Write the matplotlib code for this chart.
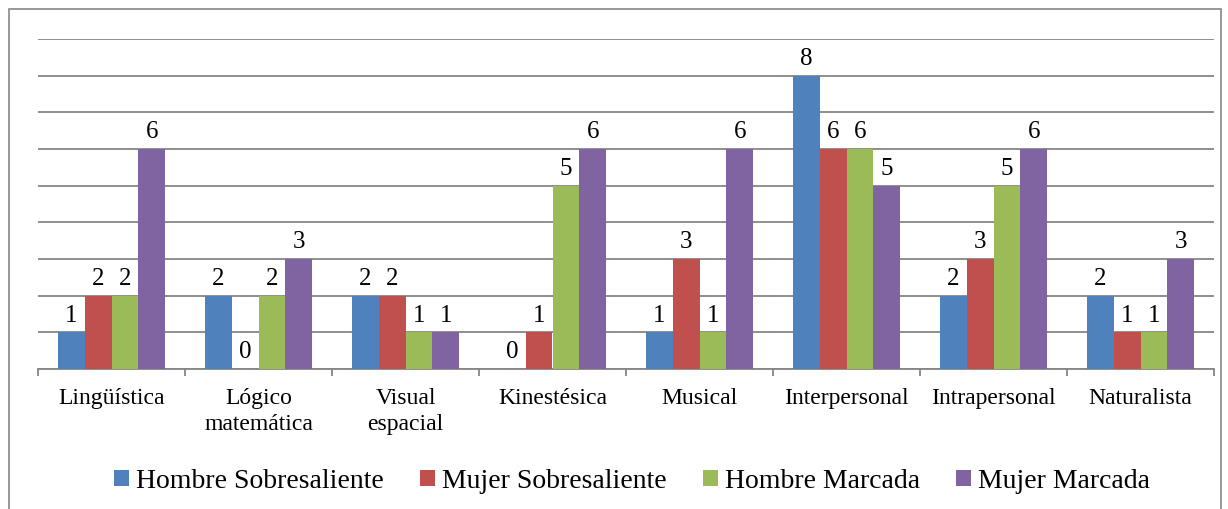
import numpy as np
import matplotlib; matplotlib.use("Agg"); import matplotlib.pyplot as plt
from matplotlib.patches import Rectangle

categorias = ["Lingüística", "Lógico\nmatemática", "Visual\nespacial", "Kinestésica",
              "Musical", "Interpersonal", "Intrapersonal", "Naturalista"]
series = ["Hombre Sobresaliente", "Mujer Sobresaliente", "Hombre Marcada", "Mujer Marcada"]
hombre_sob = [1, 2, 2, 0, 1, 8, 2, 2]
mujer_sob = [2, 0, 2, 1, 3, 6, 3, 1]
hombre_mar = [2, 2, 1, 5, 1, 6, 5, 1]
mujer_mar = [6, 3, 1, 6, 6, 5, 6, 3]
valores = [hombre_sob, mujer_sob, hombre_mar, mujer_mar]
colores = ["#4F81BD", "#C0504D", "#9BBB59", "#8064A2"]

plt.rcParams["font.family"] = ["Liberation Serif", "DejaVu Serif"]
fig = plt.figure(figsize=(12.28, 5.09), dpi=100)
fig.patches.append(Rectangle((9/1228, -0.1), (1221-9)/1228, 1.1 - 9/509, transform=fig.transFigure,
                             fill=False, edgecolor="#868686", linewidth=1.2))
ax = fig.add_axes([38/1228, 1-369/509, (1214-38)/1228, (369-39)/509])

x = np.arange(len(categorias))
w = 0.182
gris = "#868686"
for i, (vals, c, nom) in enumerate(zip(valores, colores, series)):
    pos = x + (i - 1.5) * w
    ax.bar(pos, vals, width=w, color=c, label=nom, zorder=3)
    for p, v in zip(pos, vals):
        ax.annotate(str(v), (p, v), xytext=(0, 4), textcoords="offset points",
                    ha="center", va="bottom", fontsize=18)

ax.set_xlim(-0.5, len(categorias) - 0.5)
ax.set_ylim(0, 9)
ax.set_yticks(range(0, 10))
ax.yaxis.grid(True, color=gris, linewidth=1.3, zorder=0)
ax.tick_params(axis="y", length=0, labelleft=False)
ax.set_xticks(np.arange(-0.5, len(categorias), 1))
ax.set_xticklabels([])
ax.set_xticks(x, minor=True)
ax.set_xticklabels(categorias, minor=True, fontsize=17, linespacing=1.3)
ax.tick_params(axis="x", which="major", length=5, color=gris, width=1.3)
ax.tick_params(axis="x", which="minor", length=0, pad=14)
for s in ["top", "right", "left"]:
    ax.spines[s].set_visible(False)
ax.spines["bottom"].set_color(gris)
ax.spines["bottom"].set_linewidth(1.3)

ax.legend(loc="center", bbox_to_anchor=(0.505, -0.34), ncol=4, frameon=False, fontsize=20,
          handlelength=0.55, handleheight=0.55, handletextpad=0.25, columnspacing=1.3)

fig.savefig("out.png", dpi=100)
